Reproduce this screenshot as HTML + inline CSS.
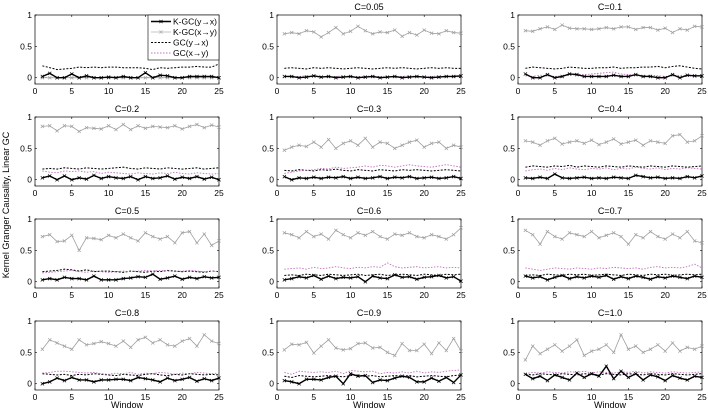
<!DOCTYPE html>
<html><head><meta charset="utf-8"><style>
body{margin:0;background:#fff;}
svg{display:block;font-family:"Liberation Sans",sans-serif;}
</style></head><body>
<svg id="c" width="708" height="411"></svg>
<script>
const titles=["","C=0.05","C=0.1","C=0.2","C=0.3","C=0.4","C=0.5","C=0.6","C=0.7","C=0.8","C=0.9","C=1.0"];
const xTicks=[0,5,10,15,20,25];
const yTicks=[0,0.5,1];
const yTickLabels=["0","0.5","1"];
const kgcYX=[
[.02,.07,0,0,.06,0,.03,0,0,.01,0,.02,0,0,.08,0,.04,.03,0,0,.02,.02,.02,.02,0],
[.02,.02,0,.01,.03,.01,.02,0,.01,.02,0,.01,.02,0,.01,.02,0,.01,.02,.01,0,.01,.02,.02,.03],
[.06,0,0,.05,0,.02,.06,.05,.02,.02,.02,.02,.04,.02,.02,.05,.02,.02,0,0,.05,0,.04,.03,.03],
[.03,.06,0,.06,0,.03,.01,.07,.02,.05,.03,.02,.05,0,.05,.02,.03,.06,.01,.04,.02,.05,.01,.04,0],
[.05,0,.03,.02,.04,.02,.04,.03,.05,.02,.04,.02,.03,.05,.02,.04,.03,.05,.02,.03,.04,.02,.03,.05,.02],
[.03,.02,.04,.02,.09,.03,.02,.03,.04,.02,.03,.02,.04,.03,.02,.07,.05,.03,.04,.02,.03,.02,.05,.03,.06],
[.03,.05,.03,.07,.05,.05,.03,.09,.03,.03,.03,.05,.06,.08,.07,.12,.04,.06,.09,.04,.07,.05,.08,.06,.07],
[.03,.05,.08,.06,.1,.04,.09,.05,.07,.06,.08,0,.09,.06,.05,.11,.07,.08,.04,.07,.08,.1,.06,.08,.01],
[.09,.06,.08,.03,.07,.1,.05,.08,.06,.09,.07,.1,.04,.08,.05,.09,.07,.04,.08,.06,.09,.07,.05,.09,.07],
[0,.03,.09,.05,.1,.06,.06,.03,.06,.06,.07,.07,.05,.1,.08,.06,.03,.09,.05,.07,.1,.04,.08,.05,.09],
[.05,.03,0,.07,.07,.06,.1,.12,0,.16,.12,.13,.02,.06,.05,.09,.12,.1,.03,.03,.09,.04,.1,.02,.14],
[.15,.08,.12,.05,.14,.1,.06,.17,.1,.16,.12,.28,.08,.2,.1,.16,.06,.14,.11,.05,.13,.09,.06,.12,.1]];
const kgcXY=[
[0,0,0,0,0,0,0,0,0,0,0,0,0,0,0,0,0,0,0,0,0,0,0,0,0],
[.7,.72,.7,.75,.73,.65,.72,.8,.7,.74,.82,.75,.7,.73,.72,.76,.66,.72,.68,.76,.71,.7,.75,.72,.71],
[.75,.74,.78,.81,.77,.84,.79,.78,.78,.77,.78,.8,.78,.81,.81,.77,.8,.8,.76,.79,.72,.78,.76,.82,.81],
[.85,.86,.78,.86,.85,.77,.83,.82,.81,.86,.8,.88,.8,.86,.82,.85,.84,.83,.86,.81,.85,.88,.83,.87,.84],
[.47,.52,.55,.53,.6,.52,.64,.5,.58,.62,.55,.66,.52,.6,.58,.5,.55,.6,.63,.52,.58,.6,.5,.55,.52],
[.62,.6,.55,.62,.66,.57,.6,.62,.58,.63,.56,.6,.65,.57,.6,.63,.55,.62,.6,.58,.7,.72,.6,.62,.7],
[.72,.75,.64,.65,.74,.5,.7,.69,.67,.74,.7,.76,.7,.65,.78,.72,.68,.72,.62,.78,.8,.62,.76,.58,.65],
[.78,.75,.7,.8,.72,.76,.68,.82,.75,.7,.78,.74,.8,.72,.68,.76,.74,.78,.72,.7,.75,.72,.68,.75,.86],
[.82,.75,.6,.8,.72,.68,.78,.75,.72,.8,.7,.74,.78,.72,.6,.75,.7,.8,.72,.68,.76,.7,.8,.65,.62],
[.55,.7,.65,.6,.55,.7,.62,.64,.67,.64,.6,.68,.58,.7,.74,.65,.7,.62,.6,.68,.72,.6,.78,.68,.64],
[.54,.63,.62,.66,.49,.6,.7,.57,.54,.56,.64,.65,.57,.58,.5,.45,.64,.53,.53,.63,.48,.65,.53,.72,.52],
[.38,.6,.48,.55,.62,.52,.6,.7,.45,.52,.55,.62,.5,.78,.55,.6,.5,.55,.62,.52,.65,.52,.58,.55,.6]];
const gcYX=[
[.19,.16,.13,.14,.15,.17,.16,.17,.16,.17,.17,.16,.16,.16,.15,.13,.16,.15,.16,.17,.17,.18,.17,.17,.22],
[.15,.16,.15,.14,.16,.15,.16,.15,.14,.15,.16,.15,.14,.15,.16,.15,.16,.15,.14,.15,.16,.15,.16,.15,.15],
[.15,.17,.16,.15,.14,.15,.17,.16,.15,.15,.16,.16,.17,.15,.16,.16,.17,.17,.18,.16,.18,.19,.17,.15,.14],
[.17,.18,.17,.19,.18,.17,.19,.18,.17,.18,.19,.2,.18,.17,.19,.18,.17,.19,.18,.17,.18,.19,.17,.18,.19],
[.15,.14,.16,.15,.14,.16,.15,.17,.15,.14,.16,.15,.14,.16,.15,.14,.16,.15,.16,.15,.14,.15,.16,.15,.14],
[.2,.22,.21,.2,.22,.21,.23,.2,.22,.21,.2,.22,.21,.2,.22,.21,.2,.22,.21,.2,.22,.21,.2,.21,.22],
[.16,.17,.18,.2,.19,.17,.19,.16,.17,.17,.16,.15,.17,.16,.15,.17,.16,.18,.17,.16,.17,.16,.15,.17,.16],
[.1,.11,.1,.12,.11,.1,.12,.11,.1,.11,.12,.1,.11,.12,.1,.11,.12,.11,.1,.12,.11,.1,.12,.11,.12],
[.1,.11,.1,.12,.11,.1,.12,.11,.12,.1,.11,.12,.11,.1,.12,.11,.1,.12,.11,.12,.1,.11,.12,.11,.12],
[.16,.15,.14,.15,.13,.15,.14,.16,.15,.14,.13,.15,.14,.13,.15,.16,.14,.13,.15,.14,.16,.15,.14,.15,.14],
[.12,.1,.13,.12,.11,.12,.13,.12,.11,.13,.14,.12,.13,.11,.12,.13,.12,.13,.11,.12,.13,.12,.11,.13,.14],
[.15,.14,.16,.15,.14,.16,.15,.14,.16,.15,.14,.16,.15,.14,.16,.15,.14,.16,.15,.14,.16,.15,.14,.15,.16]];
const gcXY=[
[.01,0,0,.01,0,0,.01,0,0,.01,0,0,.01,0,0,.01,0,0,.01,0,0,.01,0,0,.01],
[.02,.01,.02,.03,.01,.02,.01,.02,.03,.02,.01,.02,.03,.01,.02,.01,.02,.03,.02,.01,.02,.03,.02,.01,.02],
[.03,.02,.04,.03,.02,.03,.04,.05,.05,.06,.07,.08,.09,.06,.05,.04,.03,.04,.03,.02,.03,.04,.03,.02,.03],
[.14,.12,.11,.14,.13,.14,.12,.13,.1,.12,.11,.1,.09,.11,.1,.09,.11,.1,.12,.1,.09,.11,.1,.09,.1],
[.1,.12,.14,.15,.16,.18,.17,.2,.18,.19,.2,.22,.2,.23,.22,.2,.22,.24,.22,.21,.2,.22,.24,.22,.2],
[.14,.16,.17,.15,.18,.16,.19,.17,.16,.18,.17,.19,.16,.18,.17,.2,.18,.17,.19,.16,.18,.17,.19,.18,.17],
[.14,.15,.16,.17,.18,.16,.15,.17,.16,.15,.16,.17,.16,.17,.18,.17,.18,.17,.16,.17,.18,.17,.16,.17,.16],
[.2,.21,.22,.2,.23,.21,.22,.24,.22,.21,.23,.22,.24,.23,.3,.24,.22,.23,.24,.22,.23,.24,.22,.23,.22],
[.22,.2,.18,.2,.22,.21,.2,.22,.21,.2,.22,.21,.23,.22,.21,.22,.2,.23,.24,.22,.23,.22,.24,.28,.22],
[.17,.18,.2,.2,.19,.18,.17,.18,.16,.15,.17,.16,.18,.15,.17,.16,.18,.17,.15,.17,.16,.18,.17,.16,.17],
[.18,.15,.2,.19,.18,.19,.18,.2,.16,.21,.2,.19,.2,.16,.18,.17,.19,.17,.2,.17,.19,.18,.2,.21,.22],
[.16,.18,.17,.19,.18,.17,.19,.18,.2,.17,.19,.18,.17,.19,.18,.2,.17,.19,.18,.17,.19,.18,.17,.18,.19]];
const NS="http://www.w3.org/2000/svg";
const svg=document.getElementById('c');
function mk(t,a,p){const e=document.createElementNS(NS,t);for(const k in a)e.setAttribute(k,a[k]);(p||svg).appendChild(e);return e;}
const colL=[35,277,518], W=184, rowTop=[15,117,219,321], H=69;
for(let i=0;i<12;i++){
  const c=i%3,r=Math.floor(i/3);
  const L=colL[c],T=rowTop[r];
  const g=mk('g',{});
  
  
  const sx=v=>L+v/25*W;
  const sy=v=>T+(1-v)/1.1*H;
  mk('rect',{x:L,y:T,width:W,height:H,fill:'#fff',stroke:'#000','stroke-width':0.7},g);
  xTicks.forEach(t=>{
    mk('line',{x1:sx(t),x2:sx(t),y1:T+H,y2:T+H-2,stroke:'#000','stroke-width':0.6},g);
    mk('line',{x1:sx(t),x2:sx(t),y1:T,y2:T+2,stroke:'#000','stroke-width':0.6},g);
    const tx=mk('text',{x:sx(t),y:T+H+10,'font-size':8.5,'text-anchor':'middle'},g);tx.textContent=t;
    
    
  });
  yTicks.forEach((t,j)=>{
    mk('line',{x1:L,x2:L+2,y1:sy(t),y2:sy(t),stroke:'#000','stroke-width':0.6},g);
    mk('line',{x1:L+W,x2:L+W-2,y1:sy(t),y2:sy(t),stroke:'#000','stroke-width':0.6},g);
    const tx=mk('text',{x:L-3,y:sy(t)+3,'font-size':8.5,'text-anchor':'end'},g);tx.textContent=yTickLabels[j];
    
    
  });
  if(titles[i]){const tt=mk('text',{x:L+W/2,y:T-5,'font-size':9,'text-anchor':'middle'},g);tt.textContent=titles[i];
    
    }
  const pts=a=>a.map((v,k)=>sx(k+1)+','+sy(v)).join(' ');
  const series=[[gcYX[i],'#000',1,'2,1.5',false],[gcXY[i],'#c070c0',0.9,'1.5,1.5',false],[kgcXY[i],'#a0a0a0',0.8,null,true],[kgcYX[i],'#000',1.4,null,true]];
  series.forEach((s,si)=>{
    const a={points:pts(s[0]),fill:'none',stroke:s[1],'stroke-width':s[2]};
    if(s[3])a['stroke-dasharray']=s[3];
    const pl=mk('polyline',a,g);
    
    
    if(s[4]) s[0].forEach((v,k)=>{const x=sx(k+1),y=sy(v),d=1.6;
      mk('path',{d:`M${x-d},${y-d}L${x+d},${y+d}M${x-d},${y+d}L${x+d},${y-d}`,stroke:s[1],'stroke-width':0.7},g);});
  });
  if(r===3){const wl=mk('text',{x:L+W/2,y:T+H+18,'font-size':9,'text-anchor':'middle'},g);wl.textContent='Window';
    
    }
}
const lg=mk('g',{});


mk('rect',{x:148,y:15,width:71,height:45,fill:'#fff',stroke:'#000','stroke-width':0.6},lg);
const le=[['K-GC(y→x)','#000',1.4,null],['K-GC(x→y)','#b0b0b0',0.8,null],['GC(y→x)','#000',1,'2,1.5'],['GC(x→y)','#c070c0',0.9,'1.5,1.5']];
le.forEach((e,j)=>{const y=21.5+j*10.5;
  const a={x1:151,x2:171,y1:y,y2:y,stroke:e[1],'stroke-width':e[2]};if(e[3])a['stroke-dasharray']=e[3];mk('line',a,lg);
  if(j<2)mk('path',{d:`M159.5,${y-1.6}L162.5,${y+1.6}M159.5,${y+1.6}L162.5,${y-1.6}`,stroke:e[1],'stroke-width':0.7},lg);
  const t=mk('text',{x:173,y:y+3,'font-size':8.5},lg);t.textContent=e[0];
  
  
});
const yt=mk('text',{x:0,y:0,'font-size':9,'text-anchor':'middle',transform:'translate(9,205) rotate(-90)'});
yt.textContent='Kernel Granger Causality, Linear GC';


</script>
</body></html>
